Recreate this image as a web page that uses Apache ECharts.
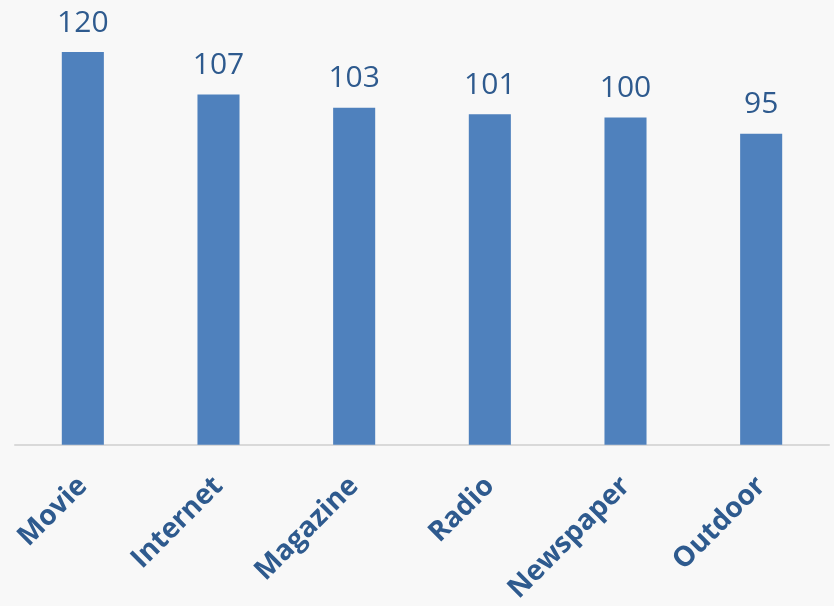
<!DOCTYPE html>
<html><head><meta charset="utf-8">
<script src="https://cdn.jsdelivr.net/npm/echarts@6/dist/echarts.min.js"></script>
<style>html,body{margin:0;padding:0;background:#F8F8F8;}#c{width:834px;height:606px;}</style>
</head><body><div id="c"></div>
<script>
const categories = ["Movie", "Internet", "Magazine", "Radio", "Newspaper", "Outdoor"];
const values = [120, 107, 103, 101, 100, 95];

const chart = echarts.init(document.getElementById('c'));
chart.setOption({
  backgroundColor: '#F8F8F8',
  animation: false,
  grid: { left: 15, right: 5, top: 52, bottom: 159, containLabel: false },
  xAxis: {
    type: 'category',
    data: categories,
    axisLine: { lineStyle: { color: '#D9D9D9', width: 2 } },
    axisTick: { show: false },
    axisLabel: {
      rotate: 45, margin: 37, interval: 0,
      color: '#2E5A8E', fontFamily: 'Open Sans', fontWeight: 'bold', fontSize: 28
    }
  },
  yAxis: { type: 'value', min: 0, max: 120, show: false, splitLine: { show: false } },
  series: [{
    type: 'bar',
    data: values,
    barWidth: '31%',
    itemStyle: { color: '#4F81BD' },
    label: {
      show: true, position: 'top', distance: 14,
      color: '#2E5A8E', fontFamily: 'Open Sans', fontSize: 30
    }
  }]
});
</script></body></html>
